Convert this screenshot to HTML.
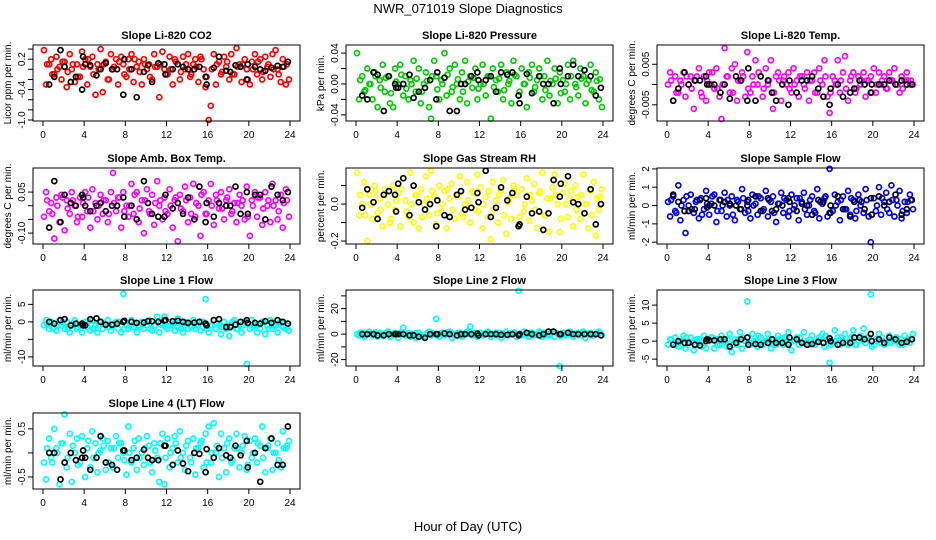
<!DOCTYPE html>
<html><head><meta charset="utf-8">
<style>
html,body{margin:0;padding:0;background:#fff;}
svg{display:block;font-family:"Liberation Sans",sans-serif;}
</style></head>
<body>
<svg id="chart" width="936" height="540" viewBox="0 0 936 540" xmlns="http://www.w3.org/2000/svg">
<rect x="0" y="0" width="936" height="540" fill="#fff"/>
<text x="468" y="13" text-anchor="middle" font-size="13">NWR_071019  Slope Diagnostics</text>
<text x="468" y="531" text-anchor="middle" font-size="13">Hour of Day (UTC)</text>
</svg>
<script>
const hoursColor = [0.1,0.3,0.6,0.8,1.1,1.3,1.6,1.8,2.1,2.3,2.6,2.8,
3.1,3.3,3.6,3.8,4.1,4.3,4.6,4.8,5.1,5.3,5.6,5.8,
6.1,6.3,6.6,6.8,7.1,7.3,7.6,7.8,8.1,8.3,8.6,8.8,
9.1,9.3,9.6,9.8,10.1,10.3,10.6,10.8,11.1,11.3,11.6,11.8,
12.1,12.3,12.6,12.8,13.1,13.3,13.6,13.8,14.1,14.3,14.6,14.8,
15.1,15.3,15.6,15.8,16.1,16.3,16.6,16.8,17.1,17.3,17.6,17.8,
18.1,18.3,18.6,18.8,19.1,19.3,19.6,19.8,20.1,20.3,20.6,20.8,
21.1,21.3,21.6,21.8,22.1,22.3,22.6,22.8,23.1,23.3,23.6,23.9];
const hoursColor2 = [0.4,0.9,1.4,1.9,2.4,2.9,3.4,3.9,4.4,4.9,5.4,5.9,6.4,6.9,7.4,7.9,8.4,8.9,9.4,9.9,10.4,10.9,11.4,11.9,12.4,12.9,13.4,13.9,14.4,14.9,15.4,15.9,16.4,16.9,17.4,17.9,18.4,18.9,19.4,19.9,20.4,20.9,21.4,21.9,22.4,22.9,23.4,23.7];
const hoursBlack = [0.6,1.1,1.7,2.1,2.7,3.2,3.8,3.9,4.1,4.6,5.2,5.6,6.1,6.7,7.2,7.8,7.9,8.6,9.1,9.8,10.2,10.6,11.2,11.8,11.9,12.6,13.1,13.6,14.1,14.7,15.2,15.8,15.9,16.6,17.1,17.8,18.2,18.7,19.2,19.8,19.9,20.6,21.1,21.6,22.2,22.8,23.3,23.8];
const xTicks = [0,4,8,12,16,20,24];

const co2Vals = [0.38,-0.3,0.1,0.2,-0.1,0.25,0.05,-0.2,0.15,-0.35,0.3,0.0,
-0.25,0.1,-0.15,0.35,0.2,-0.3,0.05,0.25,-0.5,0.1,0.4,-0.45,
0.15,-0.2,0.3,0.0,0.2,-0.3,0.25,0.1,-0.15,0.2,0.3,-0.25,
0.05,0.15,-0.3,0.2,0.0,0.1,-0.2,0.3,0.05,-0.55,0.35,0.0,
-0.1,0.25,-0.3,0.2,0.1,-0.2,0.25,0.0,0.3,-0.15,0.1,0.2,
-0.25,0.25,0.0,-0.35,-1.0,-0.72,0.3,-0.3,0.15,-0.1,0.25,0.05,
-0.2,0.3,-0.1,0.42,0.1,-0.25,0.2,0.0,-0.3,0.15,0.3,-0.1,
0.2,-0.2,0.25,0.05,-0.15,0.3,0.38,0.0,-0.25,0.2,-0.3,-0.2];
const co2Core = [0.1,-0.1,0.0,0.15,-0.05,0.1,-0.15,0.05,0.2,-0.1,0.0,0.1,-0.2,0.05,0.15,-0.1,0.0,0.2,-0.05,0.1,-0.15,0.05,0.1,-0.1,0.0,0.15,-0.05,0.1,-0.1,0.05,0.2,-0.15,0.0,0.1,-0.05,0.15,-0.1,0.05,0.1,-0.2,0.0,0.15,-0.05,0.1,0.0,-0.1,0.05,0.1];
const co2Black = [-0.3,-0.15,0.38,0.05,-0.25,-0.15,-0.4,0.25,0.1,0.08,-0.12,0.0,0.12,0.0,0.0,-0.5,0.2,0.0,-0.55,-0.05,0.08,-0.25,0.12,0.1,-0.1,0.0,0.1,0.05,0.0,0.0,0.05,-0.15,-0.3,0.03,0.25,-0.03,-0.05,0.08,0.05,-0.2,0.1,0.05,0.0,-0.03,0.03,0.07,0.05,0.15];

const presVals = [0.04,-0.02,0.01,-0.01,0.02,0.0,-0.02,0.015,-0.03,0.005,0.025,-0.01,
0.01,-0.025,-0.03,0.02,0.0,0.025,-0.015,0.01,-0.02,0.005,0.03,-0.01,
0.02,-0.025,0.0,0.015,-0.03,-0.045,0.03,0.01,-0.02,0.005,0.04,-0.015,
0.02,-0.01,0.025,0.0,-0.02,0.015,0.03,-0.025,0.01,-0.005,0.02,-0.02,
0.0,0.025,-0.015,0.01,-0.045,0.02,0.005,-0.01,0.025,-0.02,0.015,0.0,
-0.025,0.03,0.01,-0.015,0.02,0.0,-0.03,0.015,0.025,-0.01,0.005,0.02,
-0.02,0.01,0.03,-0.015,0.0,0.02,-0.025,0.015,0.005,-0.01,0.025,-0.02,
0.03,0.0,-0.015,0.02,0.01,-0.025,0.005,0.025,-0.01,0.015,-0.02,-0.03];
const presCore = [0.005,-0.008,0.0,0.01,-0.005,0.008,-0.012,0.003,0.012,-0.006,0.0,0.007,-0.01,0.004,0.01,-0.007,0.0,0.012,-0.004,0.006,-0.01,0.003,0.008,-0.006,0.0,0.01,-0.004,0.007,-0.008,0.004,0.012,-0.01,0.0,0.008,-0.004,0.01,-0.008,0.004,0.007,-0.012,0.0,0.01,-0.004,0.007,0.0,-0.008,0.004,0.006];
const presBlack = [-0.015,-0.02,0.015,0.012,-0.035,0.01,0.0,-0.005,-0.005,0.0,0.012,-0.018,-0.01,-0.005,0.005,-0.02,0.015,0.008,-0.035,-0.035,0.0,0.0,0.01,0.015,0.005,0.005,0.01,-0.01,0.015,0.012,0.015,-0.015,-0.025,0.013,-0.012,0.01,0.0,0.0,-0.025,0.02,0.0,0.01,0.025,0.01,0.018,0.01,-0.015,-0.005];

const tempVals = [0.0,0.003,-0.004,0.002,-0.002,0.001,0.003,-0.003,0.0,0.002,-0.006,0.001,
0.004,-0.002,0.002,-0.004,0.003,0.0,-0.001,0.004,-0.003,-0.0085,0.009,0.002,
-0.002,0.004,0.005,-0.004,0.001,0.003,-0.003,0.008,-0.002,0.002,0.006,0.0,
0.002,-0.003,0.004,0.0,0.006,-0.006,0.002,0.003,-0.004,0.001,0.0,0.003,
-0.002,0.004,0.001,-0.003,0.002,0.0,0.003,-0.004,0.001,0.003,-0.002,0.004,
0.0,0.006,-0.003,-0.007,0.002,0.001,0.006,-0.002,0.003,0.007,-0.004,0.001,
0.003,-0.002,0.002,0.0,0.003,-0.003,0.001,0.002,0.004,-0.002,0.003,0.0,
0.002,-0.001,0.003,0.001,0.004,0.0,-0.002,0.002,0.001,0.003,0.0,0.0];
const tempCore = [0.001,-0.002,0.0,0.002,-0.001,0.002,-0.003,0.001,0.003,-0.001,0.0,0.002,-0.002,0.001,0.002,-0.001,0.0,0.003,-0.001,0.001,-0.002,0.001,0.002,-0.001,0.0,0.002,-0.001,0.001,-0.002,0.001,0.002,-0.002,0.0,0.001,-0.001,0.002,-0.001,0.001,0.001,-0.002,0.0,0.001,-0.001,0.001,0.0,-0.001,0.001,0.001];
const tempBlack = [-0.004,-0.001,0.003,0.0,0.001,0.001,0.002,0.0,0.0,0.0,-0.002,0.0,-0.0035,0.002,0.001,-0.004,0.004,-0.004,0.002,0.001,-0.002,-0.004,0.0,-0.005,0.001,-0.002,0.001,0.001,0.002,-0.001,-0.003,-0.005,-0.001,0.0,-0.003,-0.002,-0.001,0.001,0.0,-0.002,0.0,0.0,0.0,0.001,0.0,0.001,0.0,0.0];

const ambVals = [-0.04,0.05,-0.02,0.01,-0.12,0.03,-0.06,0.04,-0.09,0.02,-0.03,0.05,
0.0,-0.06,0.03,-0.04,0.05,-0.02,-0.08,0.06,0.01,-0.05,0.04,-0.03,
0.02,-0.06,0.05,0.12,-0.02,0.03,-0.08,0.05,0.0,-0.04,0.08,-0.03,
0.05,-0.06,0.02,-0.1,0.06,-0.02,0.04,-0.07,0.09,0.0,-0.05,0.03,
-0.03,0.06,-0.08,0.02,-0.13,0.04,-0.02,0.07,-0.06,0.03,0.08,-0.04,
0.0,-0.11,0.05,-0.03,0.02,0.08,-0.07,0.04,-0.01,0.05,-0.05,0.02,
0.06,-0.03,0.01,-0.06,0.04,0.0,-0.05,0.07,-0.11,0.02,0.05,-0.04,
0.03,-0.07,0.05,0.0,-0.06,0.08,0.02,-0.05,0.04,-0.08,0.06,-0.04];
const ambCore = [0.02,-0.03,0.0,0.03,-0.01,0.02,-0.04,0.01,0.03,-0.02,0.0,0.02,-0.03,0.01,0.03,-0.02,0.0,0.04,-0.01,0.02,-0.03,0.01,0.02,-0.02,0.0,0.03,-0.01,0.02,-0.03,0.01,0.04,-0.03,0.0,0.02,-0.01,0.03,-0.02,0.01,0.02,-0.04,0.0,0.03,-0.01,0.02,0.0,-0.02,0.01,0.02];
const ambBlack = [-0.08,0.09,-0.06,0.04,0.01,0.0,0.04,0.03,0.0,-0.02,0.0,0.01,-0.02,0.0,0.0,0.03,-0.04,0.0,-0.05,0.09,0.01,-0.03,-0.04,-0.04,0.04,-0.01,0.01,-0.03,0.03,-0.05,0.07,-0.06,0.01,-0.04,0.01,0.0,0.0,0.07,-0.03,0.05,-0.03,0.04,0.04,-0.05,0.07,0.04,0.02,0.05];

const rhVals = [0.17,-0.06,0.0,0.12,-0.2,0.05,-0.08,0.1,-0.05,0.03,-0.12,0.08,
0.0,-0.1,0.1,-0.03,0.06,-0.12,0.14,0.02,-0.07,0.17,-0.1,0.05,
-0.13,0.08,0.0,0.15,-0.06,0.18,0.04,-0.11,0.1,-0.04,0.07,-0.13,
0.03,0.11,-0.08,0.05,0.15,-0.05,0.0,0.12,-0.1,0.07,-0.03,0.16,
0.09,-0.13,0.04,-0.07,-0.19,0.12,0.02,-0.1,0.07,0.13,-0.16,0.01,
-0.08,0.1,0.05,-0.12,0.08,-0.04,0.14,-0.09,0.02,0.11,-0.13,0.06,
0.17,-0.06,0.03,-0.15,0.09,0.16,0.0,-0.15,0.06,0.11,-0.07,0.03,
-0.12,0.1,0.04,-0.08,0.16,0.0,-0.13,0.07,0.12,-0.17,-0.03,0.08];
const rhCore = [0.05,-0.06,0.0,0.07,-0.03,0.05,-0.08,0.02,0.08,-0.04,0.0,0.05,-0.07,0.03,0.07,-0.05,0.0,0.08,-0.03,0.04,-0.07,0.02,0.06,-0.04,0.0,0.07,-0.03,0.05,-0.06,0.03,0.08,-0.07,0.0,0.05,-0.03,0.07,-0.06,0.03,0.05,-0.08,0.0,0.07,-0.03,0.05,0.0,-0.06,0.03,0.04];
const rhBlack = [-0.02,0.08,0.01,-0.08,0.05,0.07,0.05,-0.04,0.11,0.14,-0.06,0.1,0.01,-0.03,0.0,-0.12,0.02,-0.06,-0.07,0.05,0.07,-0.03,-0.02,0.06,0.01,0.18,-0.07,-0.02,0.09,0.02,0.06,-0.12,-0.11,0.04,-0.05,-0.04,-0.14,-0.05,0.13,0.04,0.11,0.15,0.01,0.0,-0.05,0.08,-0.11,0.0];

const flowVals = [0.2,-0.6,0.5,-0.3,1.1,-0.8,0.3,-1.5,0.0,0.6,-0.4,0.2,
-0.7,0.4,-0.2,0.8,-0.5,0.1,0.6,-0.9,0.3,-0.3,0.7,-0.6,
0.0,0.5,-0.8,0.3,-0.2,0.9,-0.4,0.2,-0.7,0.6,0.1,-0.5,
0.4,-0.3,0.8,-0.6,0.2,0.5,-0.9,0.1,0.7,-0.4,0.3,-0.6,
0.6,-0.2,0.4,-0.8,0.2,0.7,-0.5,0.0,0.5,-0.3,0.9,-0.7,
0.1,0.4,-0.6,2.0,-0.3,0.6,0.2,-0.8,0.5,-0.2,0.8,-0.5,
0.3,-0.7,0.6,0.0,-0.4,0.9,-0.6,-2.0,0.4,-0.3,1.0,-0.5,
0.2,0.7,-0.4,1.1,-0.6,0.3,0.8,-0.7,0.2,-0.4,0.6,-0.2];
const flowCore = [0.3,-0.4,0.0,0.5,-0.2,0.3,-0.5,0.1,0.5,-0.3,0.0,0.3,-0.5,0.2,0.4,-0.3,0.0,0.5,-0.2,0.3,-0.4,0.1,0.4,-0.3,0.0,0.4,-0.2,0.3,-0.4,0.2,0.5,-0.4,0.0,0.3,-0.2,0.4,-0.3,0.2,0.3,-0.5,0.0,0.4,-0.2,0.3,0.0,-0.3,0.2,0.3];
const flowBlack = [0.6,0.2,-0.3,-0.3,-0.2,0.3,0.4,-0.1,0.0,0.0,0.3,0.2,0.1,0.0,-0.2,0.0,0.3,0.5,-0.3,0.4,-0.3,-0.2,0.0,0.4,0.2,-0.3,0.1,0.0,-0.5,0.3,0.2,-0.4,0.0,0.5,-0.2,-0.6,0.2,0.3,-0.2,0.4,-0.5,0.5,0.0,0.2,0.6,-0.5,-0.2,0.3];

const line1Vals = [-1,0.5,-2,0,-1.5,-2.5,0.5,-1,-2,0,-3,-1,
0.5,-2,-1,-3,0,-1.5,-2.5,0.5,-1,-3,0,-2,
-1,0.5,-2.5,-1,0,-2,-3,8,-1,-2,0.5,-1.5,
-3,-1,0,-2,-1,0.5,-2.5,-1,1.5,-3,-1,1.5,
-2,0,-1,-2.5,1,-1.5,-3,0,-2,-1,0.5,-2,
-1,-2.5,0,6.5,-3,-1,0.5,-2,-1,-3.5,0,-2,
-4,-1,0.5,-2,-1,-3,0,-12,-2,0.5,-1,-3,
-2,0,-3.5,-1,0.5,-2,-1,-3,0,-1.5,-2,-2.5];
const line1Core = [-0.5,-1.5,-1,0,-2,-0.5,-1.5,-1,0,-2,-1,-0.5,-1.5,-1,0,-2,-1,-0.5,-1.5,0,-2,-1,-0.5,-1.5,-1,0,-2,-0.5,-1.5,-1,0,-2,-1,-0.5,-1.5,-1,0,-2,-1,-0.5,-1.5,-1,0,-2,-1,-0.5,-1.5,-1];
const line1Black = [0,-0.5,0.5,0.8,-1,-0.5,-0.5,-1,-1,0.8,1,0,-0.8,-0.8,-0.5,0,0.3,0,-0.3,-0.2,0.2,0.2,0,0.4,0.5,0.2,0.3,0,-0.3,-0.2,0,-0.5,-1,0.5,0.8,-1.5,-1.5,-0.8,0,0.5,-0.3,-0.3,-0.5,0.2,-0.3,0.5,0,-0.5];

const line2Vals = [0,-1,1,-2,0,2,-1,0,-2,1,-1,0,
2,-2,0,1,-3,0,5,-1,1,-2,0,-3,
1,-1,-2,0,2,-1,0,12,-2,1,-1,0,
2,-3,0,-1,1,-2,0,2,6,-1,0,-2,
1,-1,0,2,-2,0,1,-1,-3,0,2,-1,
0,1,-2,34,-1,2,0,-2,1,-1,0,2,
-2,1,0,-1,2,-2,0,-25,1,-1,0,2,
-2,0,1,-1,2,-3,0,1,-1,0,2,-1];
const line2Core = [1,-1,0,1.5,-0.5,1,-1.5,0.5,1.5,-1,0,1,-1.5,0.5,1,-1,0,1.5,-0.5,1,-1,0.5,1,-1,0,1,-0.5,1,-1,0.5,1.5,-1,0,1,-0.5,1,-1,0.5,1,-1.5,0,1,-0.5,1,0,-1,0.5,1];
const line2Black = [0,0,0,-1,-1,0,0,0,0,0,-1,-1,-2,-3,0,0,0,0.5,0,-1,0,0,0,0.5,-1,0,0,0,-0.5,-0.5,0,-1,0,1,0,-1,0,2,2,0,0,1,0,0,0,0,0,-1];

const line3Vals = [-1,0.5,-0.5,1,-1.5,0,1.5,-2,-0.5,1,-2.5,0,
0.5,-1,1.5,-2,0,1,-2,0.5,-1,1.5,0,-1.5,
2,-3,0.5,-1,2.5,-2,0,11,-1,2,0,-1.5,
1,-1,0,2,-2,0.5,-1,1.5,0,-1,1,2.5,
-2.5,0,1,-1,-0.5,2.5,0,-1,1.5,-0.5,0,1,
2,-1.5,0.5,-6,-0.5,3,1,-1,0,2,-1,0.5,
3,-1,0,1.5,3.5,-0.5,1,13,-1,0.5,2,-0.5,
-1,0.5,1.5,-0.5,0,1,-1,0.5,1.5,0,-0.5,2];
const line3Core = [0.5,-1,0,1,-0.5,0.5,-1.5,0.5,1,-1,0,0.5,-1,0.5,1,-0.5,0,1.5,-0.5,0.5,-1,0.5,1,-0.5,0,1,-0.5,0.5,-1,0.5,1.5,-1,0,1,-0.5,1,-1,0.5,1,-1.5,0,1,-0.5,0.5,0,-1,0.5,0.5];
const line3Black = [-1,0,-0.5,-0.5,-1,-1.2,0,0.5,0.3,0.2,0.5,0.5,-1.5,-0.5,0.5,1,-1,-0.8,-1,-0.5,0.5,-0.5,-0.5,-1,1,0.5,-0.5,-1,-0.8,-0.2,-0.5,0.8,0,-1,-0.5,-0.5,1,1,0.5,2,0,0.5,-0.5,1,0.5,-0.5,-0.2,0.5];

const line4Vals = [-0.2,-0.55,0.3,-0.1,0.5,0.1,-0.65,0.2,0.8,-0.3,0.4,-0.6,
0.0,0.3,-0.2,0.35,-0.5,0.1,-0.3,0.45,0.2,-0.4,0.05,0.3,
-0.35,0.25,0.1,-0.3,0.35,-0.1,0.2,0.0,-0.45,0.55,-0.2,0.1,
-0.35,0.3,0.0,-0.25,0.35,0.15,-0.4,0.2,-0.1,-0.6,0.4,-0.65,
0.3,-0.3,0.1,0.35,-0.2,0.45,0.0,-0.35,0.25,-0.1,0.3,-0.45,
0.1,0.2,-0.3,0.4,0.55,-0.2,0.62,0.0,-0.5,0.4,0.1,-0.4,
0.3,-0.2,0.1,0.4,-0.3,0.0,0.35,-0.35,0.25,-0.1,0.3,-0.2,
0.15,0.55,-0.4,0.1,0.3,-0.35,0.0,0.2,-0.3,0.45,0.1,0.25];
const line4Core = [0.1,-0.2,0.0,0.2,-0.1,0.15,-0.25,0.05,0.25,-0.1,0.0,0.15,-0.2,0.1,0.2,-0.15,0.0,0.25,-0.1,0.1,-0.2,0.05,0.2,-0.1,0.0,0.2,-0.1,0.15,-0.2,0.1,0.25,-0.2,0.0,0.15,-0.1,0.2,-0.15,0.1,0.15,-0.25,0.0,0.2,-0.1,0.15,0.0,-0.15,0.1,0.15];
const line4Black = [0.0,0.0,-0.55,-0.2,0.0,-0.15,-0.1,0.05,-0.1,-0.35,-0.1,0.35,-0.2,-0.25,-0.35,0.05,0.05,-0.15,-0.1,0.07,-0.1,-0.15,-0.15,0.15,0.15,-0.25,0.05,-0.22,-0.38,0.0,-0.02,-0.4,0.08,-0.1,0.1,-0.05,-0.1,0.15,-0.05,0.25,-0.3,0.0,-0.6,0.1,0.3,-0.25,-0.25,0.55];

const panelTitles = ["Slope Li-820 CO2","Slope Li-820 Pressure","Slope Li-820 Temp.","Slope Amb. Box Temp.","Slope Gas Stream RH","Slope Sample Flow","Slope Line 1 Flow","Slope Line 2 Flow","Slope Line 3 Flow","Slope Line 4 (LT) Flow"];
const yTitles = ["Licor ppm per min.","kPa per min.","degrees C per min.","degrees C per min.","percent per min.","ml/min per min.","ml/min per min.","ml/min per min.","ml/min per min.","ml/min per min."];
const yTickVals = [[0.4,0.2,0,-0.2,-0.4,-0.6,-0.8,-1.0],[0.04,0.02,0,-0.02,-0.04],[0.005,0,-0.005],[0.05,0,-0.05,-0.10],[0.1,0,-0.1,-0.2],[2,1,0,-1,-2],[5,0,-5,-10],[30,20,10,0,-10,-20],[10,5,0,-5],[0.5,0,-0.5]];
const yTickLabels = [["","0.2","","","-0.4","","","-1.0"],["0.04","","0.00","","-0.04"],["0.005","","-0.005"],["0.05","","","-0.10"],["","0.0","","-0.2"],["2","1","0","-1","-2"],["5","0","","-10"],["","20","","0","","-20"],["10","5","0","-5"],["0.5","","-0.5"]];
const yDomains = [[-1.02,0.48],[-0.048,0.0505],[-0.009,0.00975],[-0.14,0.138],[-0.216,0.195],[-2.1,2.05],[-12.6,9.1],[-25,34.6],[-6.9,14.2],[-0.75,0.83]];
const colorVals = [co2Vals,presVals,tempVals,ambVals,rhVals,flowVals,line1Vals,line2Vals,line3Vals,line4Vals];
const coreVals = [co2Core,presCore,tempCore,ambCore,rhCore,flowCore,line1Core,line2Core,line3Core,line4Core];
const blackVals = [co2Black,presBlack,tempBlack,ambBlack,rhBlack,flowBlack,line1Black,line2Black,line3Black,line4Black];
const colors = ["#ff0000","#00cd00","#ff00ff","#ff00ff","#ffff00","#0000ff","#00ffff","#00ffff","#00ffff","#00ffff"];

const NS = "http://www.w3.org/2000/svg";
const svg = document.getElementById("chart");
const colLeft = [33,346,657], rowTop = [45,168,290,413];
const boxW = 267, boxH = 76;
function mk(tag, attrs, parent){const e=document.createElementNS(NS,tag);for(const k in attrs)e.setAttribute(k,attrs[k]);parent.appendChild(e);return e;}

for (let p=0;p<10;p++){
  const L = colLeft[p%3], T = rowTop[Math.floor(p/3)];
  const g = mk("g",{},svg);
  
  
  const xS = h => L + 10 + h/24*(boxW-20);
  const [y0,y1] = yDomains[p];
  const yS = v => T + boxH - (v-y0)/(y1-y0)*boxH;
  const t = mk("text",{x:L+boxW/2,y:T-6,"text-anchor":"middle","font-size":"11","font-weight":"bold"},g);
  t.textContent = panelTitles[p];
  
  
  const yt = mk("text",{transform:`translate(${L-22},${T+boxH/2}) rotate(-90)`,"text-anchor":"middle","font-size":"10"},g);
  yt.textContent = yTitles[p];
  
  
  const cv = colorVals[p];
  for (let i=0;i<Math.min(cv.length,hoursColor.length);i++){
    const c = mk("circle",{cx:xS(hoursColor[i]).toFixed(1),cy:yS(cv[i]).toFixed(1),r:"2.5",fill:"none",stroke:colors[p],"stroke-width":"1.7"},g);
    
    
  }
  const kv = coreVals[p];
  for (let i=0;i<Math.min(kv.length,hoursColor2.length);i++){
    const c = mk("circle",{cx:xS(hoursColor2[i]).toFixed(1),cy:yS(kv[i]).toFixed(1),r:"2.5",fill:"none",stroke:colors[p],"stroke-width":"1.7"},g);
    
    
  }
  const bv = blackVals[p];
  for (let i=0;i<Math.min(bv.length,hoursBlack.length);i++){
    const c = mk("circle",{cx:xS(hoursBlack[i]).toFixed(1),cy:yS(bv[i]).toFixed(1),r:"2.5",fill:"none",stroke:"#000","stroke-width":"1.7"},g);
    
    
  }
  const box = mk("rect",{x:L,y:T,width:boxW,height:boxH,fill:"none",stroke:"#000","stroke-width":"1"},g);
  
  
  for (const h of xTicks){
    const x = xS(h);
    mk("line",{x1:x,x2:x,y1:T+boxH,y2:T+boxH+5,stroke:"#000"},g);
    const lt = mk("text",{x:x,y:T+boxH+17,"text-anchor":"middle","font-size":"10"},g);
    lt.textContent = h;
    
    
  }
  const tv = yTickVals[p], tl = yTickLabels[p];
  for (let i=0;i<tv.length;i++){
    const y = yS(tv[i]);
    mk("line",{x1:L-5,x2:L,y1:y,y2:y,stroke:"#000"},g);
    if (tl[i]){
      const lt = mk("text",{transform:`translate(${L-8},${y}) rotate(-90)`,"text-anchor":"middle","font-size":"10"},g);
      lt.textContent = tl[i];
      
      
    }
  }
}
</script>
</body></html>
